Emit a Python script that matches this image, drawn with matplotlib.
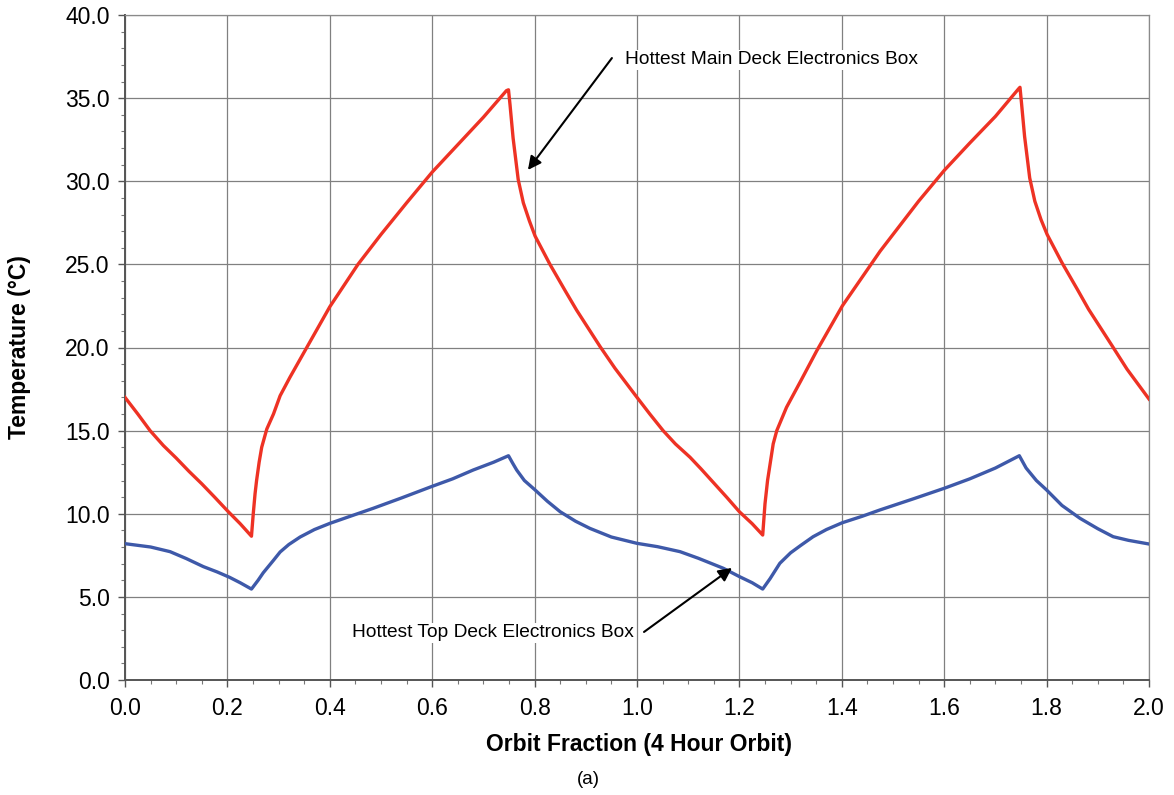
import numpy as np
import matplotlib
matplotlib.use('Agg')
import matplotlib.pyplot as plt
from matplotlib.ticker import MultipleLocator, FormatStrFormatter

plt.rcParams['font.family'] = ['Liberation Sans', 'DejaVu Sans']

# hottest main deck electronics box
main_x = [0.000, 0.025, 0.049, 0.075, 0.100, 0.125, 0.150, 0.175, 0.200, 0.225, 0.247,
          0.2505, 0.254, 0.257, 0.262, 0.267, 0.277, 0.290, 0.303, 0.322, 0.355, 0.400,
          0.455, 0.500, 0.550, 0.600, 0.650, 0.700, 0.745, 0.749,
          0.752, 0.755, 0.758, 0.762, 0.768, 0.778, 0.790, 0.801, 0.830, 0.860, 0.882,
          0.928, 0.957, 1.000,
          1.025, 1.051, 1.075, 1.1035, 1.125, 1.150, 1.175, 1.200, 1.225, 1.2455,
          1.250, 1.255, 1.260, 1.266, 1.273, 1.292, 1.320, 1.351, 1.401,
          1.475, 1.500, 1.550, 1.600, 1.650, 1.700, 1.745, 1.748,
          1.751, 1.754, 1.757, 1.761, 1.767, 1.777, 1.789, 1.801, 1.830, 1.860, 1.882,
          1.928, 1.957, 2.000]
main_t = [17.00, 16.00, 15.00, 14.10, 13.35, 12.55, 11.80, 11.00, 10.18, 9.40, 8.65,
          10.0, 11.2, 12.0, 13.1, 14.0, 15.1, 16.0, 17.1, 18.2, 20.0, 22.45,
          25.0, 26.8, 28.7, 30.55, 32.2, 33.85, 35.45, 35.5,
          34.6, 33.6, 32.6, 31.6, 30.1, 28.7, 27.6, 26.7, 25.0, 23.4, 22.25,
          20.05, 18.75, 17.0,
          16.0, 15.0, 14.2, 13.4, 12.7, 11.85, 11.0, 10.12, 9.4, 8.72,
          10.6, 12.0, 13.0, 14.2, 15.0, 16.4, 18.0, 19.8, 22.5,
          25.8, 26.8, 28.8, 30.65, 32.3, 33.9, 35.55, 35.65,
          34.7, 33.7, 32.7, 31.7, 30.2, 28.8, 27.7, 26.8, 25.1, 23.5, 22.3,
          20.1, 18.7, 16.9]

# hottest top deck electronics box
top_x = [0.000, 0.050, 0.088, 0.120, 0.153, 0.180, 0.204, 0.225, 0.247,
         0.260, 0.270, 0.290, 0.303, 0.320, 0.342, 0.370, 0.400, 0.440, 0.485,
         0.540, 0.600, 0.640, 0.680, 0.720, 0.749,
         0.757, 0.765, 0.780, 0.801, 0.825, 0.850, 0.880, 0.908, 0.950, 1.000,
         1.040, 1.084, 1.120, 1.1686, 1.200, 1.225, 1.2455,
         1.260, 1.279, 1.300, 1.320, 1.344, 1.370, 1.401, 1.440, 1.4746,
         1.540, 1.600, 1.650, 1.700, 1.7467,
         1.760, 1.780, 1.800, 1.830, 1.865, 1.900, 1.930, 1.960, 2.000]
top_t = [8.20, 8.00, 7.72, 7.30, 6.82, 6.50, 6.18, 5.85, 5.47,
         6.00, 6.45, 7.20, 7.70, 8.15, 8.60, 9.05, 9.42, 9.85, 10.33,
         10.95, 11.65, 12.10, 12.63, 13.10, 13.49,
         13.05, 12.63, 12.00, 11.43, 10.75, 10.12, 9.55, 9.12, 8.60, 8.22,
         8.02, 7.72, 7.32, 6.72, 6.22, 5.85, 5.47,
         6.10, 7.02, 7.65, 8.10, 8.62, 9.05, 9.46, 9.85, 10.23,
         10.90, 11.53, 12.10, 12.75, 13.49,
         12.75, 12.00, 11.43, 10.50, 9.73, 9.10, 8.62, 8.40, 8.18]

fig = plt.figure(figsize=(11.74, 7.95), dpi=100)
ax = fig.add_axes([125 / 1174, 1 - 680 / 795, 1024 / 1174, 665 / 795])

ax.plot(main_x, main_t, color='#EE3224', lw=2.4, solid_joinstyle='round', zorder=3)
ax.plot(top_x, top_t, color='#3E59A9', lw=2.4, solid_joinstyle='round', zorder=3)

ax.set_xlim(0, 2.0)
ax.set_ylim(0, 40)
ax.xaxis.set_major_locator(MultipleLocator(0.2))
ax.xaxis.set_minor_locator(MultipleLocator(0.05))
ax.yaxis.set_major_locator(MultipleLocator(5))
ax.yaxis.set_minor_locator(MultipleLocator(1))
ax.xaxis.set_major_formatter(FormatStrFormatter('%.1f'))
ax.yaxis.set_major_formatter(FormatStrFormatter('%.1f'))
ax.grid(True, which='major', color='#808080', lw=0.9)
ax.set_axisbelow(True)

for s in ['top', 'right']:
    ax.spines[s].set_color('#8a8a8a')
    ax.spines[s].set_linewidth(0.9)
for s in ['left', 'bottom']:
    ax.spines[s].set_color('#555555')
    ax.spines[s].set_linewidth(1.4)
ax.tick_params(which='major', direction='out', length=5, width=1, color='#555555',
               labelsize=16.5)
ax.tick_params(which='minor', direction='out', length=3, width=0.8, color='#777777')
ax.tick_params(axis='x', pad=7)
ax.tick_params(axis='y', pad=6)

fig.text(0.5439, 0.0629, 'Orbit Fraction (4 Hour Orbit)', fontsize=16.5,
         fontweight='bold', ha='center', va='center')
fig.text(0.017, 0.563, 'Temperature (\u00b0C)', fontsize=16.5, fontweight='bold',
         rotation=90, ha='center', va='center')
fig.text(0.5009, 0.0189, '(a)', fontsize=13.5, ha='center', va='center')

arrow = dict(arrowstyle='-|>', color='black', lw=1.5, mutation_scale=20,
             shrinkA=0, shrinkB=0)
ax.annotate('', xy=(0.787, 30.68), xytext=(0.951, 37.41), arrowprops=arrow)
ax.text(0.977, 37.3, 'Hottest Main Deck Electronics Box', fontsize=13.8,
        ha='left', va='center', bbox=dict(facecolor='white', edgecolor='none', pad=1))
ax.annotate('', xy=(1.1855, 6.74), xytext=(1.0137, 2.89), arrowprops=arrow)
ax.text(0.994, 2.83, 'Hottest Top Deck Electronics Box', fontsize=13.8,
        ha='right', va='center', bbox=dict(facecolor='white', edgecolor='none', pad=1))

fig.savefig('out.png', dpi=100)
